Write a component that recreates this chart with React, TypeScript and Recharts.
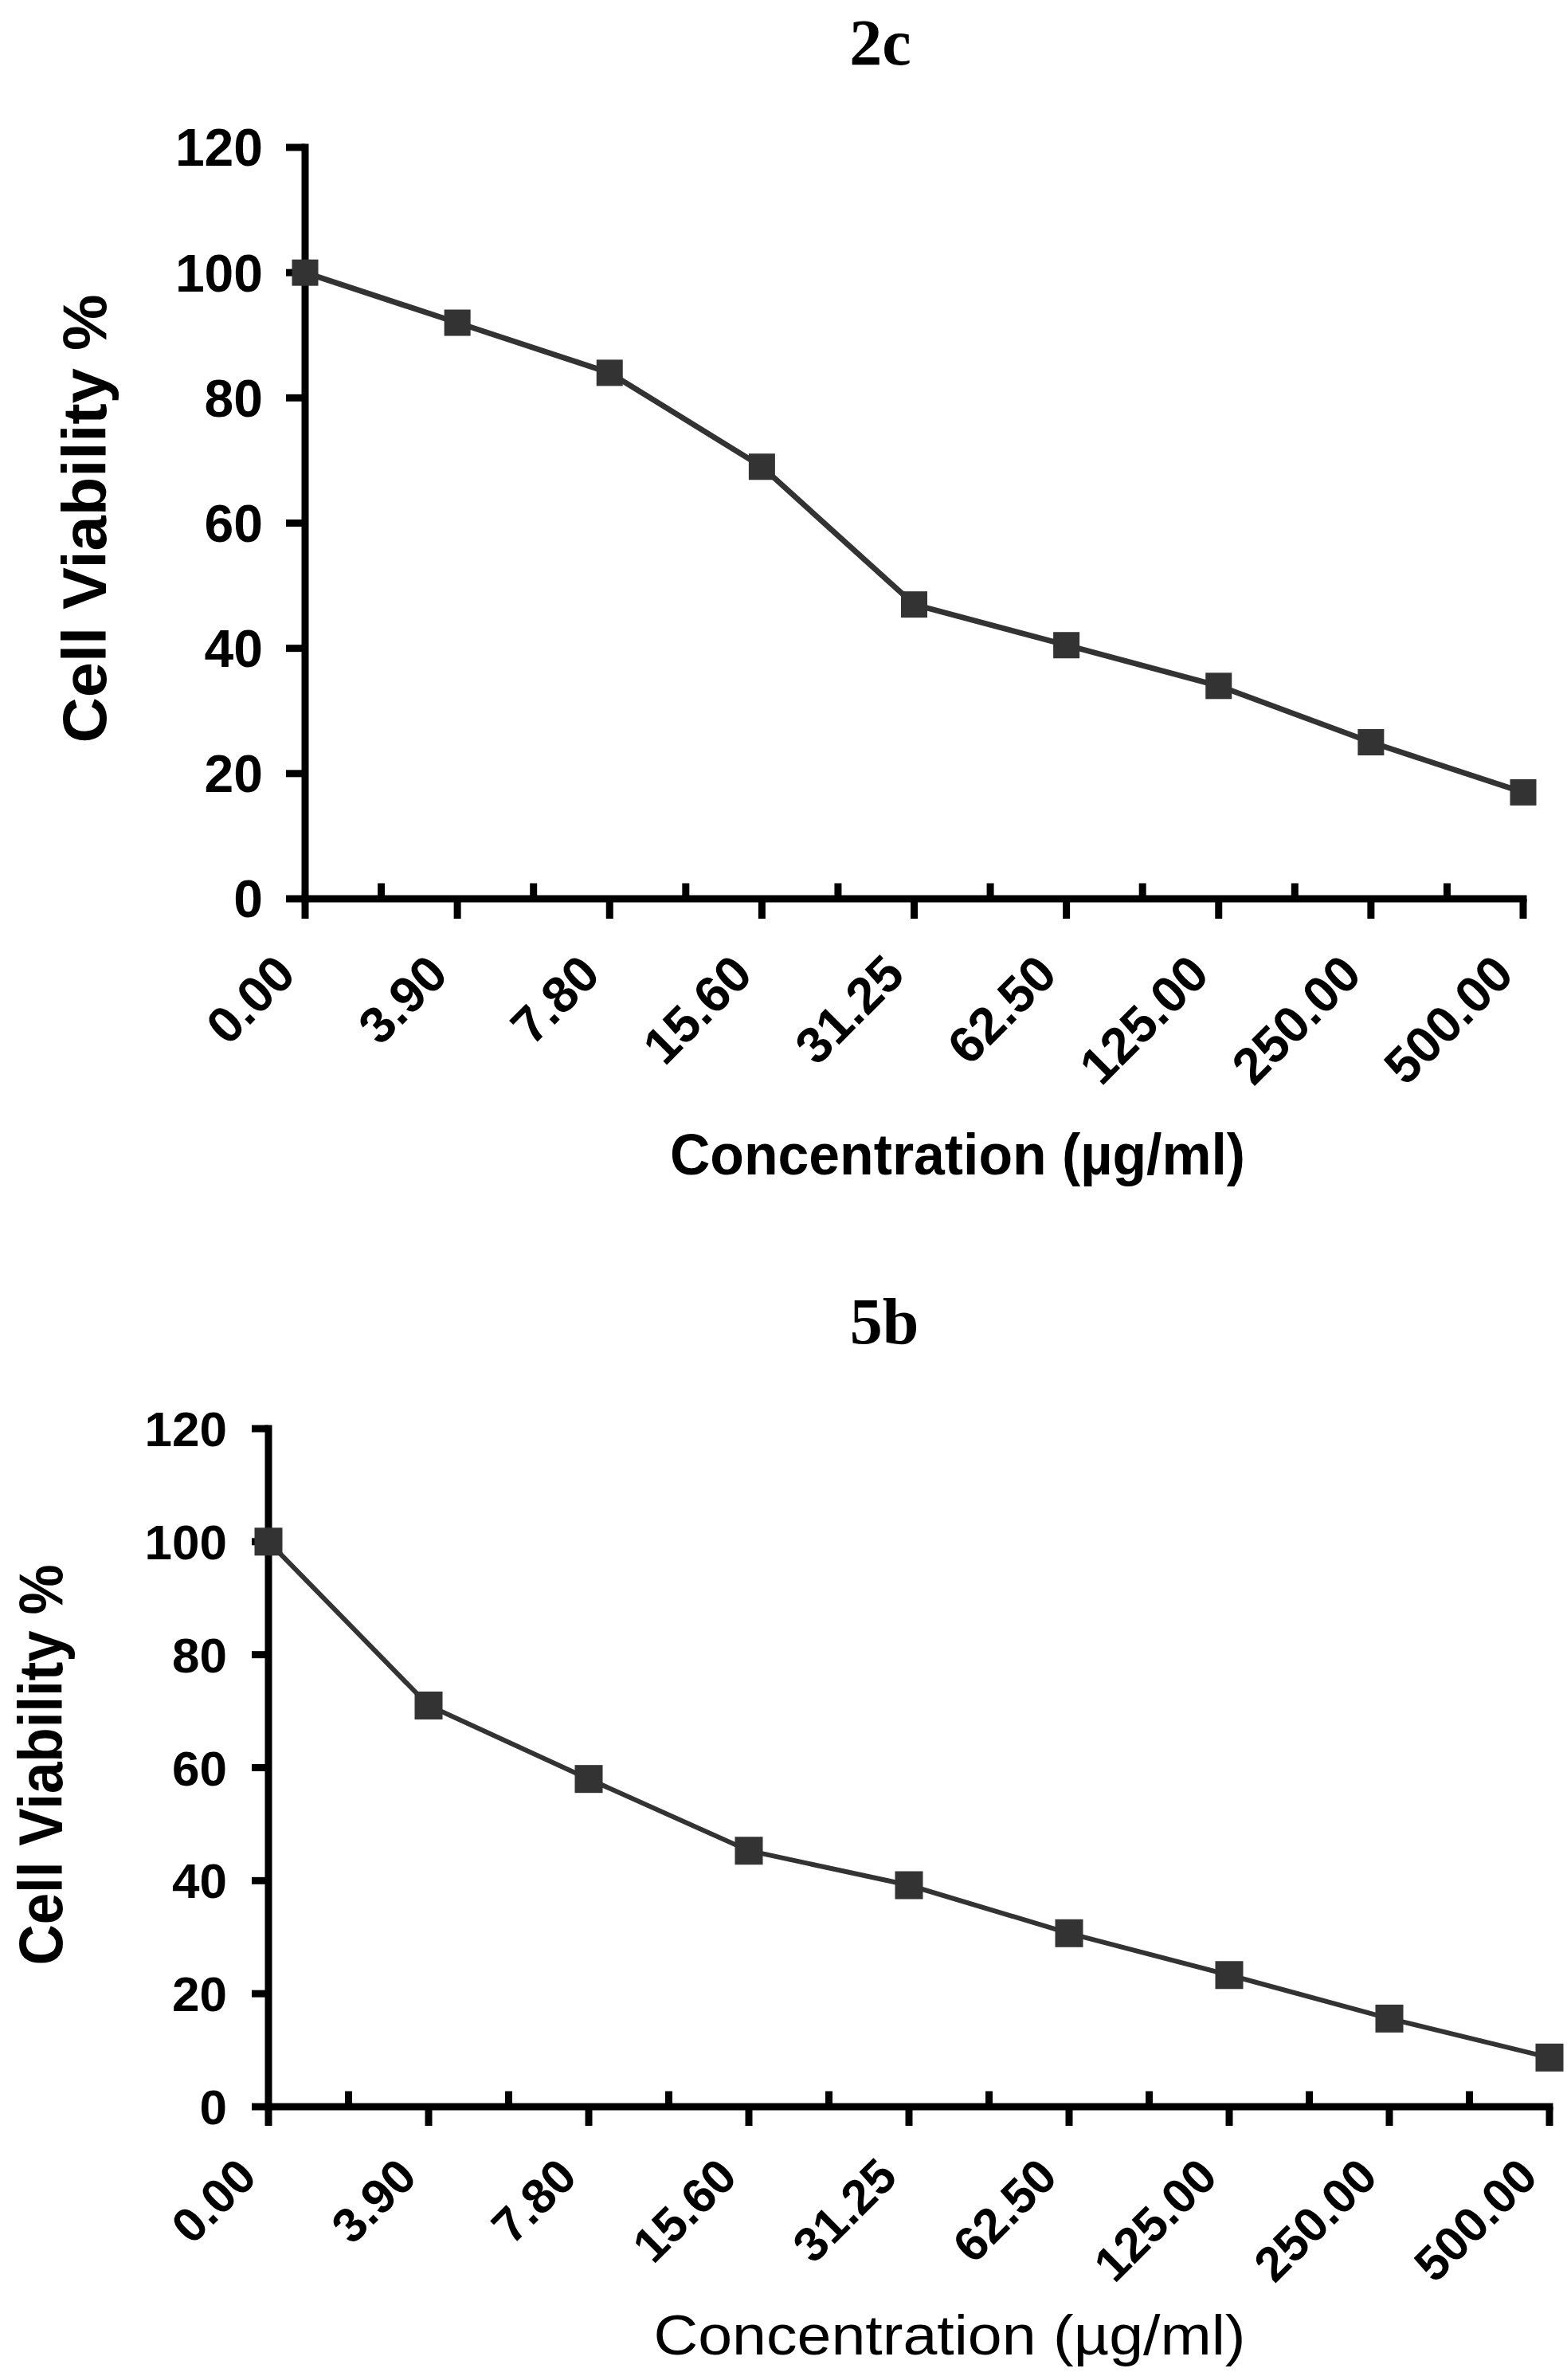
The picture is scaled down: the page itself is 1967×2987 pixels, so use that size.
import { LineChart, Line, XAxis, YAxis } from "recharts";

// concentration categories (µg/ml) shown on the x axis
const concentrations = ["0.00", "3.90", "7.80", "15.60", "31.25", "62.50", "125.00", "250.00", "500.00"];

// cell viability (%)
const viability2c = [100, 92, 84, 69, 47, 40.5, 34, 25, 17];
const viability5b = [100, 71, 58, 45.3, 39.2, 30.7, 23.3, 15.6, 8.7];

const yTicks = [0, 20, 40, 60, 80, 100, 120];

// major ticks sit on the categories, minor ticks half way between them
const majorTicks = concentrations.map((_, i) => i);
const minorTicks = concentrations.slice(1).map((_, i) => i + 0.5);
const xTicks = [...majorTicks, ...minorTicks].sort((a, b) => a - b);

const sans = "'Liberation Sans', Arial, sans-serif";
const serif = "'Liberation Serif', 'Times New Roman', serif";

const data2c = concentrations.map((c, i) => ({ idx: i, label: c, v: viability2c[i] }));
const data5b = concentrations.map((c, i) => ({ idx: i, label: c, v: viability5b[i] }));

type TickOpts = { dx: number; dy: number; fontSize: number; major: number; minor: number };

function XTick(props: any & TickOpts) {
  const { x, y, payload, dx, dy, fontSize, major, minor } = props;
  const v = payload.value as number;
  if (!Number.isInteger(v)) {
    return <line x1={x} x2={x} y1={y} y2={y - 4.5 - minor} stroke="#000" strokeWidth={9} />;
  }
  const tx = x + dx;
  const ty = y + dy;
  return (
    <g>
      <line x1={x} x2={x} y1={y} y2={y + major} stroke="#000" strokeWidth={9} />
      <text
        x={tx}
        y={ty}
        transform={`rotate(-45 ${tx} ${ty})`}
        textAnchor="end"
        fontSize={fontSize}
        fontFamily={sans}
        fontWeight="bold"
        fill="#000"
      >
        {concentrations[v]}
      </text>
    </g>
  );
}

function Square(props: any, size: number) {
  const { cx, cy, index } = props;
  return <rect key={index} x={cx - size / 2} y={cy - size / 2} width={size} height={size} fill="#333333" />;
}

function Panel({
  data,
  height,
  margin,
  yTickSize,
  yTickMargin,
  yFont,
  xOpts,
  strokeWidth,
  dotSize,
}: {
  data: { idx: number; label: string; v: number }[];
  height: number;
  margin: { top: number; right: number; left: number; bottom: number };
  yTickSize: number;
  yTickMargin: number;
  yFont: number;
  xOpts: TickOpts;
  strokeWidth: number;
  dotSize: number;
}) {
  return (
    <LineChart width={1967} height={height} data={data} margin={margin}>
      <XAxis
        dataKey="idx"
        type="number"
        domain={[0, 8]}
        ticks={xTicks}
        interval={0}
        height={300}
        tickSize={0}
        tickMargin={0}
        tickLine={false}
        axisLine={{ stroke: "#000", strokeWidth: 9, strokeLinecap: "square" }}
        tick={(p: any) => <XTick {...p} {...xOpts} />}
      />
      <YAxis
        domain={[0, 120]}
        ticks={yTicks}
        interval={0}
        width={200}
        tickSize={yTickSize}
        tickMargin={yTickMargin}
        tickLine={{ stroke: "#000", strokeWidth: 9 }}
        axisLine={{ stroke: "#000", strokeWidth: 9, strokeLinecap: "square" }}
        tick={{ fontSize: yFont, fill: "#000", fontFamily: sans, fontWeight: "bold" }}
      />
      <Line
        type="linear"
        dataKey="v"
        stroke="#333333"
        strokeWidth={strokeWidth}
        dot={(p: any) => Square(p, dotSize)}
        activeDot={false}
        isAnimationActive={false}
      />
    </LineChart>
  );
}

export default function App() {
  return (
    <div style={{ position: "absolute", left: 0, top: 0, width: 1967, height: 2987, background: "#fff" }}>
      <div style={{ position: "absolute", left: 0, top: 0 }}>
        <Panel
          data={data2c}
          height={1500}
          margin={{ top: 185, right: 55, left: 183, bottom: 72 }}
          yTickSize={24}
          yTickMargin={29}
          yFont={66}
          xOpts={{ dx: -9, dy: 98, fontSize: 64, major: 25, minor: 15 }}
          strokeWidth={7}
          dotSize={33}
        />
      </div>
      <div style={{ position: "absolute", left: 0, top: 1500 }}>
        <Panel
          data={data5b}
          height={1487}
          margin={{ top: 293, right: 22, left: 137, bottom: 43 }}
          yTickSize={21}
          yTickMargin={31}
          yFont={62}
          xOpts={{ dx: -12, dy: 91, fontSize: 61, major: 24, minor: 15 }}
          strokeWidth={6}
          dotSize={35}
        />
      </div>
      <svg
        width={1967}
        height={2987}
        style={{ position: "absolute", left: 0, top: 0, pointerEvents: "none" }}
      >
        <text x={1105} y={81} textAnchor="middle" fontFamily={serif} fontWeight="bold" fontSize={82} fill="#000">
          2c
        </text>
        <text
          transform="translate(133,651) rotate(-90)"
          textAnchor="middle"
          fontFamily={sans}
          fontWeight="bold"
          fontSize={78}
          textLength={563}
          lengthAdjust="spacingAndGlyphs"
          fill="#000"
        >
          Cell Viability %
        </text>
        <text
          x={1202}
          y={1474}
          textAnchor="middle"
          fontFamily={sans}
          fontWeight="bold"
          fontSize={72}
          textLength={722}
          lengthAdjust="spacingAndGlyphs"
          fill="#000"
        >
          Concentration (µg/ml)
        </text>

        <text x={1110} y={1686} textAnchor="middle" fontFamily={serif} fontWeight="bold" fontSize={82} fill="#000">
          5b
        </text>
        <text
          transform="translate(78,2215) rotate(-90)"
          textAnchor="middle"
          fontFamily={sans}
          fontWeight="bold"
          fontSize={78}
          textLength={503}
          lengthAdjust="spacingAndGlyphs"
          fill="#000"
        >
          Cell Viability %
        </text>
        <text
          x={1192}
          y={2955}
          textAnchor="middle"
          fontFamily={sans}
          fontSize={70}
          textLength={743}
          lengthAdjust="spacingAndGlyphs"
          fill="#000"
        >
          Concentration (µg/ml)
        </text>
      </svg>
    </div>
  );
}
